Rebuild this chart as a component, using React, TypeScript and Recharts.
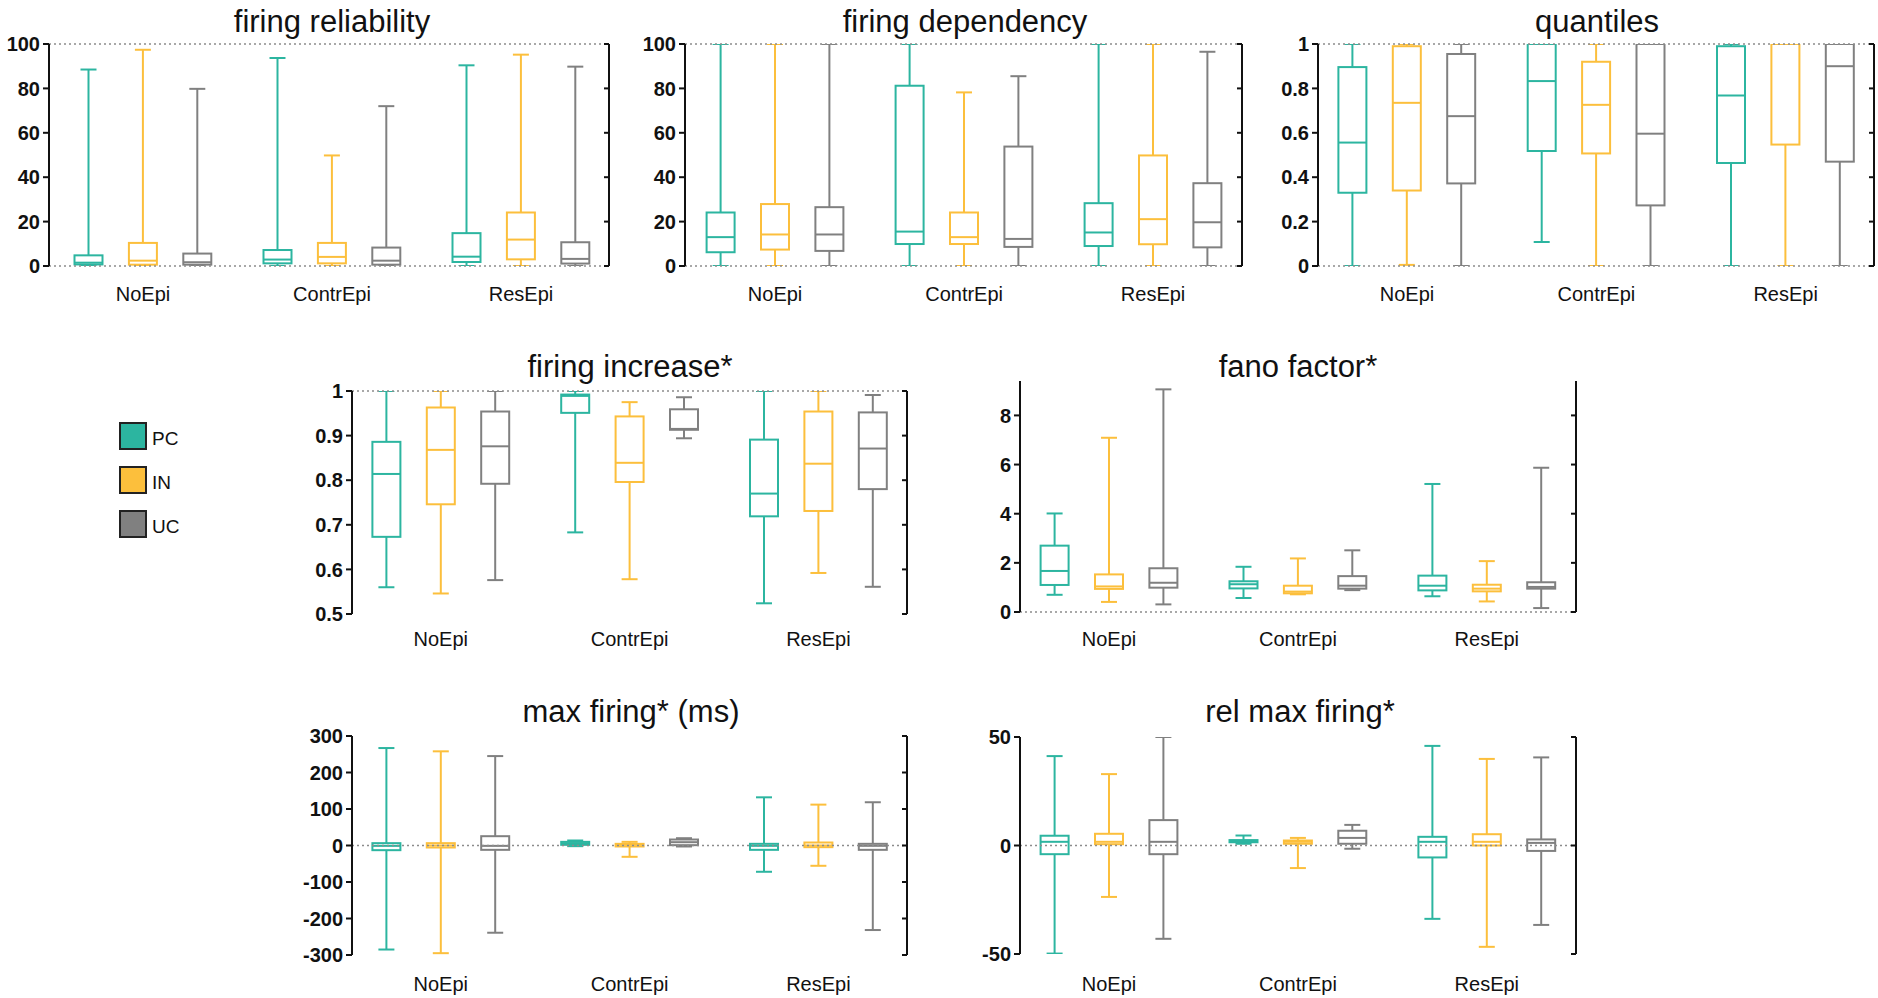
import React from 'react';
import { ComposedChart, Bar, XAxis, YAxis, ReferenceLine } from 'recharts';

const groups = ['NoEpi', 'ContrEpi', 'ResEpi'];
const cells = ['PC', 'IN', 'UC'];
const colors: Record<string, string> = { PC: '#2cb5a0', IN: '#fcbf3c', UC: '#808080' };

// every entry: [min, q1, median, q3, max] for NoEpi, ContrEpi, ResEpi
const relPC = [[0, 0.7, 1.5, 4.8, 88.5], [0, 1.2, 2.9, 7.2, 93.7], [0, 1.8, 4.2, 14.8, 90.4]];
const relIN = [[0, 0.6, 2.4, 10.4, 97.4], [0, 1.2, 4.1, 10.4, 49.8], [0, 3.0, 11.9, 24.1, 95.2]];
const relUC = [[0, 0.6, 1.7, 5.6, 79.8], [0, 0.6, 2.4, 8.3, 72.0], [0, 1.1, 3.2, 10.7, 89.8]];

const depPC = [[0, 6.2, 13.0, 24.1, 100], [0, 9.9, 15.5, 81.2, 100], [0, 9.0, 15.1, 28.3, 100]];
const depIN = [[0, 7.4, 14.2, 27.9, 100], [0, 9.9, 13.0, 24.1, 78.2], [0, 9.8, 21.1, 49.8, 100]];
const depUC = [[0, 6.8, 14.2, 26.5, 100], [0, 8.6, 12.2, 53.8, 85.5], [0, 8.4, 19.7, 37.3, 96.5]];

const quaPC = [[0, 0.33, 0.556, 0.896, 1], [0.108, 0.518, 0.833, 1, 1], [0, 0.464, 0.768, 0.99, 1]];
const quaIN = [[0.005, 0.34, 0.735, 0.99, 1], [0, 0.507, 0.726, 0.92, 1], [0, 0.547, 1, 1, 1]];
const quaUC = [[0, 0.372, 0.675, 0.955, 1], [0, 0.273, 0.596, 1, 1], [0, 0.47, 0.9, 1, 1]];

const incPC = [[0.56, 0.673, 0.814, 0.886, 1], [0.683, 0.951, 0.989, 0.992, 1], [0.524, 0.719, 0.77, 0.891, 1]];
const incIN = [[0.546, 0.746, 0.868, 0.963, 1], [0.578, 0.796, 0.839, 0.943, 0.975], [0.592, 0.731, 0.837, 0.954, 1]];
const incUC = [[0.576, 0.792, 0.876, 0.954, 1], [0.894, 0.913, 0.915, 0.959, 0.986], [0.561, 0.78, 0.871, 0.952, 0.991]];

const fanPC = [[0.7, 1.1, 1.67, 2.7, 4.01], [0.57, 0.96, 1.13, 1.25, 1.84], [0.64, 0.88, 1.07, 1.48, 5.21]];
const fanIN = [[0.41, 0.94, 1.04, 1.53, 7.09], [0.72, 0.76, 0.83, 1.07, 2.18], [0.43, 0.84, 0.95, 1.11, 2.07]];
const fanUC = [[0.31, 0.99, 1.19, 1.78, 9.06], [0.89, 0.95, 1.07, 1.46, 2.51], [0.16, 0.95, 1.02, 1.21, 5.87]];

const maxPC = [[-285, -12.8, -1, 6.4, 267], [-1.8, 1.8, 6.4, 10, 13.7], [-72, -11.9, -0.9, 4.6, 132]];
const maxIN = [[-295, -5.5, 0, 6.4, 258], [-31, -2.7, 1.8, 4.6, 10], [-55.6, -4.6, 0, 8.2, 112]];
const maxUC = [[-239, -11.9, -1, 25.5, 245], [-2.7, 0.9, 9.1, 16.4, 20], [-231.6, -11.9, -0.9, 4.6, 118.5]];

const rmxPC = [[-49.8, -4.0, 1.7, 4.5, 41.2], [0.8, 1.5, 2.0, 2.5, 4.6], [-33.8, -5.5, 1.7, 4.0, 45.9]];
const rmxIN = [[-23.7, 0.6, 1.7, 5.4, 32.9], [-10.4, 0.8, 1.7, 2.3, 3.5], [-46.7, 0, 1.7, 5.2, 39.9]];
const rmxUC = [[-43, -4.0, 1.7, 11.7, 50], [-1.5, 0.8, 3.5, 6.8, 9.5], [-36.6, -2.5, 1.2, 2.8, 40.6]];

const font = "'Liberation Sans', Arial, sans-serif";

const rows = (pc: number[][], inn: number[][], uc: number[][]) =>
  groups.map((g, i) => ({ group: g, PC: pc[i], IN: inn[i], UC: uc[i] }));

const panels = [
  { title: 'firing reliability', data: rows(relPC, relIN, relUC), domain: [0, 100], ticks: [0, 20, 40, 60, 80, 100], refs: [0, 100],
    L: 49, T: 44, W: 560, H: 222, pad: [-0.5, -6.5], gap: 21, tx: 332, ty: 32 },
  { title: 'firing dependency', data: rows(depPC, depIN, depUC), domain: [0, 100], ticks: [0, 20, 40, 60, 80, 100], refs: [0, 100],
    L: 685, T: 44, W: 557, H: 222, pad: [-4.4, -5.6], gap: 21, tx: 965, ty: 32 },
  { title: 'quantiles', data: rows(quaPC, quaIN, quaUC), domain: [0, 1], ticks: [0, 0.2, 0.4, 0.6, 0.8, 1], refs: [0, 1],
    L: 1318, T: 44, W: 556, H: 222, pad: [-5.6, -6.3], gap: 21, tx: 1597, ty: 32 },
  { title: 'firing increase*', data: rows(incPC, incIN, incUC), domain: [0.5, 1], ticks: [0.5, 0.6, 0.7, 0.8, 0.9, 1], refs: [1],
    L: 352, T: 391, W: 555, H: 223, pad: [-5.6, -5.8], gap: 18, tx: 630, ty: 377 },
  { title: 'fano factor*', data: rows(fanPC, fanIN, fanUC), domain: [0, 9.4], ticks: [0, 2, 4, 6, 8], refs: [0],
    L: 1020, T: 381, W: 556, H: 231, pad: [-5.4, -5.3], gap: 20, tx: 1298, ty: 377 },
  { title: 'max firing* (ms)', data: rows(maxPC, maxIN, maxUC), domain: [-300, 300], ticks: [-300, -200, -100, 0, 100, 200, 300], refs: [0],
    L: 352, T: 736, W: 555, H: 219, pad: [-5.6, -5.8], gap: 22, tx: 631, ty: 722 },
  { title: 'rel max firing*', data: rows(rmxPC, rmxIN, rmxUC), domain: [-50, 50], ticks: [-50, 0, 50], refs: [0],
    L: 1020, T: 737, W: 556, H: 217, pad: [-5.4, -5.3], gap: 23, tx: 1300, ty: 722 },
];

function BoxShape(props: any) {
  const { x, y, width, height, payload, cell } = props;
  const s: number[] = payload[cell];
  const [mn, q1, md, q3, mx] = s;
  const top = Math.min(y, y + height);
  const bot = Math.max(y, y + height);
  const py = (v: number) => (mx === mn ? top : bot - ((v - mn) / (mx - mn)) * (bot - top));
  const c = colors[cell];
  const cx = x + width / 2;
  const cap = 8;
  return (
    <g stroke={c} strokeWidth={2} fill="none">
      <line x1={cx} x2={cx} y1={py(mx)} y2={py(q3)} />
      <line x1={cx} x2={cx} y1={py(q1)} y2={py(mn)} />
      <line x1={cx - cap} x2={cx + cap} y1={py(mx)} y2={py(mx)} />
      <line x1={cx - cap} x2={cx + cap} y1={py(mn)} y2={py(mn)} />
      <rect x={x} y={py(q3)} width={width} height={Math.max(py(q1) - py(q3), 0.5)} />
      <line x1={x} x2={x + width} y1={py(md)} y2={py(md)} />
    </g>
  );
}

const NoLabel = () => <g />;

function Panel({ p }: { p: any }) {
  const yw = p.L > 60 ? 60 : p.L - 1;
  const mt = 12;
  const xh = 50;
  return (
    <div style={{ position: 'absolute', left: p.L - yw, top: p.T - mt }}>
      <ComposedChart
        width={yw + p.W + 4}
        height={mt + p.H + xh}
        data={p.data}
        margin={{ top: mt, right: 4, bottom: 0, left: 0 }}
        barGap={26.4}
      >
        <XAxis
          dataKey="group"
          axisLine={false}
          tickLine={false}
          tickSize={0}
          tickMargin={p.gap}
          height={xh}
          interval={0}
          padding={{ left: p.pad[0], right: p.pad[1] }}
          tick={{ fill: '#111', fontSize: 20, fontFamily: font }}
        />
        <YAxis
          yAxisId="l"
          domain={p.domain}
          ticks={p.ticks}
          allowDataOverflow
          interval={0}
          width={yw}
          axisLine={{ stroke: '#111', strokeWidth: 2 }}
          tickLine={{ stroke: '#111', strokeWidth: 2 }}
          tickSize={6}
          tickMargin={3}
          tick={{ fill: '#111', fontSize: 20, fontWeight: 700, fontFamily: font }}
        />
        <YAxis
          yAxisId="r"
          orientation="right"
          mirror
          domain={p.domain}
          ticks={p.ticks}
          allowDataOverflow
          interval={0}
          tick={NoLabel}
          axisLine={{ stroke: '#111', strokeWidth: 2 }}
          tickLine={{ stroke: '#111', strokeWidth: 2 }}
          tickSize={5}
        />
        {p.refs.map((v: number) => (
          <ReferenceLine key={v} yAxisId="l" y={v} stroke="#8c8c8c" strokeWidth={1.5} strokeDasharray="2 3" ifOverflow="visible" />
        ))}
        {cells.map((c) => (
          <Bar
            key={c}
            yAxisId="l"
            dataKey={(d: any) => [d[c][0], d[c][4]]}
            barSize={28}
            isAnimationActive={false}
            shape={(sp: any) => <BoxShape {...sp} cell={c} />}
          />
        ))}
      </ComposedChart>
    </div>
  );
}

export default function App() {
  return (
    <div style={{ position: 'absolute', left: 0, top: 0, width: 1878, height: 998, background: '#fff', overflow: 'hidden' }}>
      {panels.map((p) => (
        <Panel key={p.title} p={p} />
      ))}
      <svg width={1878} height={998} style={{ position: 'absolute', left: 0, top: 0, pointerEvents: 'none' }}>
        {panels.map((p) => (
          <text key={p.title} x={p.tx} y={p.ty} textAnchor="middle" fontSize={31} fontFamily={font} fill="#111">
            {p.title}
          </text>
        ))}
        {cells.map((c, i) => (
          <g key={c}>
            <rect x={120} y={423 + i * 44} width={26} height={26} fill={colors[c]} stroke="#222" strokeWidth={2} />
            <text x={152} y={445 + i * 44} fontSize={19} fontFamily={font} fill="#111">
              {c}
            </text>
          </g>
        ))}
      </svg>
    </div>
  );
}
